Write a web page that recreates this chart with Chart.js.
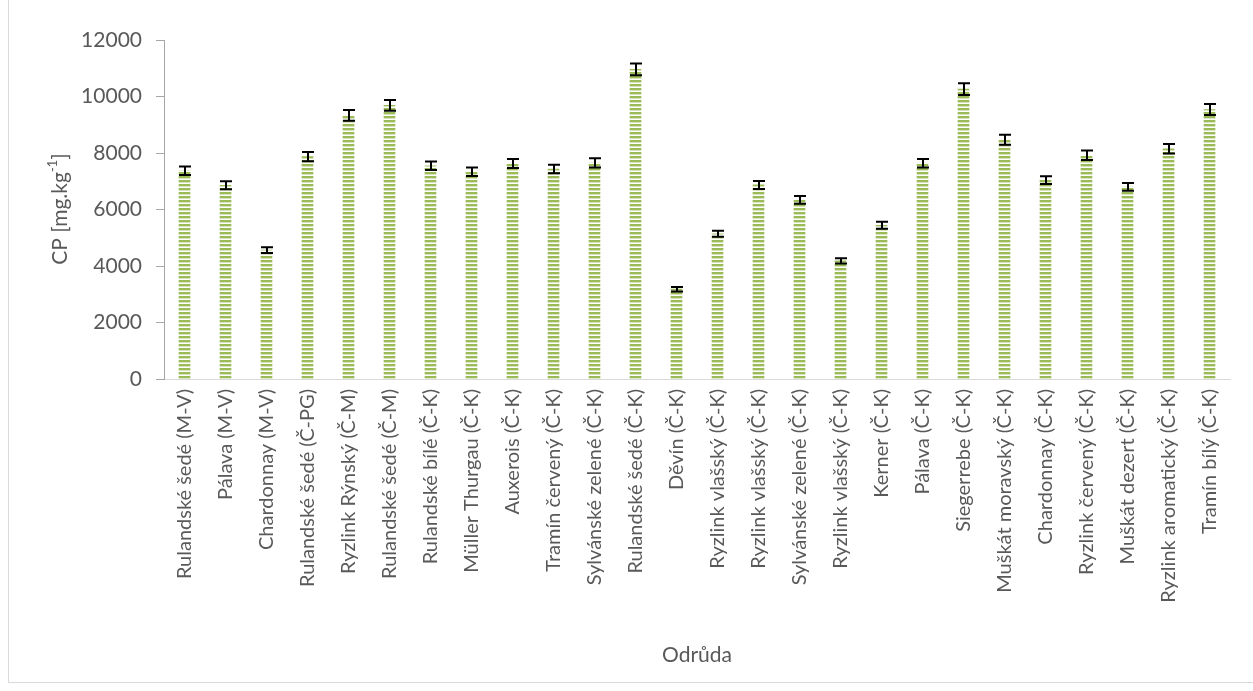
<!DOCTYPE html>
<html>
<head>
<meta charset="utf-8">
<script src="https://cdn.jsdelivr.net/npm/chart.js@4.4.0/dist/chart.umd.min.js"></script>
<style>
  html, body { margin: 0; padding: 0; background: #fff; }
  #wrap { position: relative; width: 1253px; height: 691px; }
  #frame { position: absolute; left: 8px; top: -1px; width: 1250px; height: 684px; border: 1px solid #d9d9d9; box-sizing: border-box; pointer-events: none; }
  canvas { position: absolute; left: 0; top: 0; }
</style>
</head>
<body>
<div id="wrap">
  <canvas id="cpChart" width="1253" height="691"></canvas>
  <div id="frame"></div>
</div>
<script>
// Odrůdy a lokality
const odrudy = [
    'Rulandské šedé (M-V)', 'Pálava (M-V)', 'Chardonnay (M-V)', 'Rulandské šedé (Č-PG)',
    'Ryzlink Rýnský (Č-M)', 'Rulandské šedé (Č-M)', 'Rulandské bílé (Č-K)', 'Müller Thurgau (Č-K)',
    'Auxerois (Č-K)', 'Tramín červený (Č-K)', 'Sylvánské zelené (Č-K)', 'Rulandské šedé (Č-K)',
    'Děvín (Č-K)', 'Ryzlink vlašský (Č-K)', 'Ryzlink vlašský (Č-K)', 'Sylvánské zelené (Č-K)',
    'Ryzlink vlašský (Č-K)', 'Kerner (Č-K)', 'Pálava (Č-K)', 'Siegerrebe (Č-K)',
    'Muškát moravský (Č-K)', 'Chardonnay (Č-K)', 'Ryzlink červený (Č-K)', 'Muškát dezert (Č-K)',
    'Ryzlink aromatický (Č-K)', 'Tramín bílý (Č-K)'
];

// průměrné CP [mg/kg]
const cpPrumer = [
    7370, 6860, 4560, 7870, 9330, 9690, 7550, 7340, 7630, 7430, 7650, 10960,
    3180, 5140, 6870, 6340, 4180, 5440, 7640, 10260, 8470, 7040, 7920, 6800,
    8150, 9540
];

// směrodatná odchylka
const cpOdchylka = [
    150, 140, 100, 165, 190, 190, 150, 150, 160, 150, 160, 210,
    80, 105, 140, 140, 90, 125, 150, 205, 175, 140, 165, 140,
    170, 195
];

const yTicks = [0, 2000, 4000, 6000, 8000, 10000, 12000];

const FONT = 'Lato, "Open Sans", sans-serif';
const TEXT_COLOR = '#595959';

// šrafování sloupců vodorovnými pruhy
function stripePattern() {
    const c = document.createElement('canvas');
    c.width = 8;
    c.height = 4;
    const g = c.getContext('2d');
    g.fillStyle = '#ffffff';
    g.fillRect(0, 0, 8, 4);
    g.fillStyle = '#9bbb59';
    g.fillRect(0, 0, 8, 2);
    g.fillStyle = '#d6e3bc';
    g.fillRect(0, 2, 8, 1);
    return g.createPattern(c, 'repeat');
}

// chybové úsečky
const errorBars = {
    id: 'errorBars',
    afterDatasetsDraw(chart) {
        const ctx = chart.ctx;
        const x = chart.scales.x;
        const y = chart.scales.y;
        ctx.save();
        ctx.strokeStyle = '#000';
        ctx.lineWidth = 2;
        cpPrumer.forEach((v, i) => {
            const px = Math.round(x.getPixelForValue(i));
            const top = y.getPixelForValue(v + cpOdchylka[i]);
            const bot = y.getPixelForValue(v - cpOdchylka[i]);
            ctx.beginPath();
            ctx.moveTo(px, top);
            ctx.lineTo(px, bot);
            ctx.moveTo(px - 6, top);
            ctx.lineTo(px + 6, top);
            ctx.moveTo(px - 6, bot);
            ctx.lineTo(px + 6, bot);
            ctx.stroke();
        });
        ctx.restore();
    }
};

// popisky os (jednotka s horním indexem)
const axisTitles = {
    id: 'axisTitles',
    afterDraw(chart) {
        const ctx = chart.ctx;
        const area = chart.chartArea;
        ctx.save();
        ctx.fillStyle = TEXT_COLOR;
        ctx.textBaseline = 'middle';

        ctx.font = '21px ' + FONT;
        ctx.textAlign = 'center';
        ctx.fillText('Odrůda', (area.left + area.right) / 2, 655);

        const main = 'CP [mg.kg';
        const sup = '-1';
        const end = ']';
        ctx.font = '21px ' + FONT;
        const w1 = ctx.measureText(main).width;
        const w3 = ctx.measureText(end).width;
        ctx.font = '13px ' + FONT;
        const w2 = ctx.measureText(sup).width;
        const total = w1 + w2 + w3;
        ctx.translate(60, 209);
        ctx.rotate(-Math.PI / 2);
        ctx.textAlign = 'left';
        let cx = -total / 2;
        ctx.font = '21px ' + FONT;
        ctx.fillText(main, cx, 0);
        cx += w1;
        ctx.font = '13px ' + FONT;
        ctx.fillText(sup, cx, -7);
        cx += w2;
        ctx.font = '21px ' + FONT;
        ctx.fillText(end, cx, 0);
        ctx.restore();
    }
};

new Chart(document.getElementById('cpChart'), {
    type: 'bar',
    data: {
        labels: odrudy,
        datasets: [{
            label: 'CP',
            data: cpPrumer,
            backgroundColor: stripePattern(),
            borderWidth: 0,
            barThickness: 11
        }]
    },
    options: {
        responsive: false,
        animation: false,
        layout: { padding: { top: 40, right: 23, left: 0, bottom: 0 } },
        plugins: {
            legend: { display: false },
            tooltip: { enabled: false }
        },
        scales: {
            x: {
                afterFit(scale) { scale.height = 312; },
                grid: { display: false, drawTicks: false },
                border: { display: true, color: '#d9d9d9', width: 1 },
                ticks: {
                    color: TEXT_COLOR,
                    font: { family: FONT, size: 20 },
                    minRotation: 90,
                    maxRotation: 90,
                    autoSkip: false,
                    padding: 10
                }
            },
            y: {
                min: 0,
                max: 12000,
                afterFit(scale) { scale.width = 164; },
                afterBuildTicks(scale) { scale.ticks = yTicks.map(v => ({ value: v })); },
                grid: { drawOnChartArea: false, drawTicks: true, tickLength: 8, color: '#a6a6a6' },
                border: { display: true, color: '#a6a6a6', width: 1 },
                ticks: {
                    color: TEXT_COLOR,
                    font: { family: FONT, size: 21 },
                    padding: 14,
                    callback: v => String(v)
                }
            }
        }
    },
    plugins: [errorBars, axisTitles]
});
</script>
</body>
</html>
